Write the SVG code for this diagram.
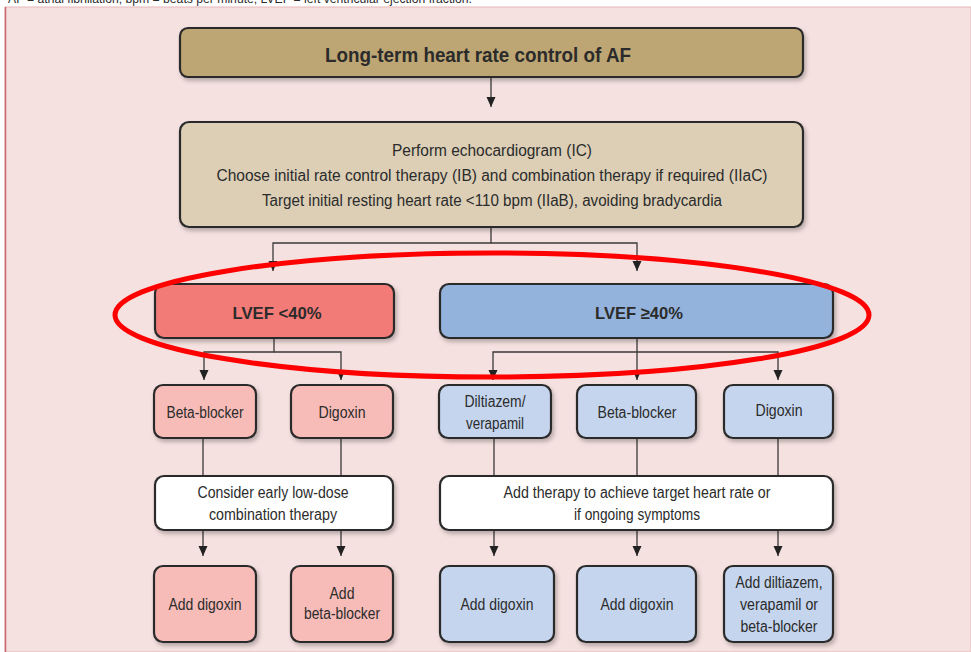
<svg xmlns="http://www.w3.org/2000/svg" width="971" height="652" viewBox="0 0 971 652">
<style>
.t{font-family:"Liberation Sans",Arial,sans-serif;fill:#2b2b2b;text-anchor:middle;font-size:16px}
.b{font-weight:bold}
.box{stroke:#2a2a2a;stroke-width:2.2}
.ln{stroke:#3a3a3a;stroke-width:1.3;fill:none}
</style>
<defs>
<marker id="ah" viewBox="0 0 10 10" refX="10" refY="5" markerWidth="10" markerHeight="10" markerUnits="userSpaceOnUse" orient="auto">
<path d="M0,0.5 L10,5 L0,9.5 Z" fill="#222"/>
</marker>
<filter id="sh" x="-5%" y="-10%" width="112%" height="130%">
<feDropShadow dx="2" dy="3" stdDeviation="2" flood-color="#000" flood-opacity="0.25"/>
</filter>
</defs>
<rect x="0" y="0" width="971" height="652" fill="#ffffff"/>
<rect x="5" y="7" width="966" height="645" fill="#f5e1e0" stroke="#e7b7b9" stroke-width="1"/>
<line x1="5.5" y1="7" x2="5.5" y2="652" stroke="#c9686f" stroke-width="1.5"/>
<text x="8" y="3" class="t" style="text-anchor:start;font-size:12px" textLength="464" lengthAdjust="spacingAndGlyphs">AF = atrial fibrillation; bpm = beats per minute; LVEF = left ventricular ejection fraction.</text>

<g id="connectors">
<line class="ln" x1="491" y1="77" x2="491" y2="107" marker-end="url(#ah)"/>
<path class="ln" d="M491,227 V243 H273 V271" marker-end="url(#ah)"/>
<path class="ln" d="M491,243 H637 V271" marker-end="url(#ah)"/>
<path class="ln" d="M274,338 V352 H204 V380" marker-end="url(#ah)"/>
<path class="ln" d="M274,352 H341 V380" marker-end="url(#ah)"/>
<path class="ln" d="M637,338 V380" marker-end="url(#ah)"/>
<path class="ln" d="M637,352 H493 V380" marker-end="url(#ah)"/>
<path class="ln" d="M637,352 H778 V380" marker-end="url(#ah)"/>
<line class="ln" x1="203" y1="438" x2="203" y2="476"/>
<line class="ln" x1="341" y1="438" x2="341" y2="476"/>
<line class="ln" x1="494" y1="438" x2="494" y2="476"/>
<line class="ln" x1="637" y1="438" x2="637" y2="476"/>
<line class="ln" x1="778" y1="438" x2="778" y2="476"/>
<line class="ln" x1="203" y1="530" x2="203" y2="556" marker-end="url(#ah)"/>
<line class="ln" x1="341" y1="530" x2="341" y2="556" marker-end="url(#ah)"/>
<line class="ln" x1="494" y1="530" x2="494" y2="556" marker-end="url(#ah)"/>
<line class="ln" x1="637" y1="530" x2="637" y2="556" marker-end="url(#ah)"/>
<line class="ln" x1="778" y1="530" x2="778" y2="556" marker-end="url(#ah)"/>
</g>

<g id="title">
<rect class="box" x="180" y="28" width="623" height="49" rx="8" fill="#bda673" filter="url(#sh)"/>
<text class="t b" x="478" y="62" style="font-size:20px" textLength="306" lengthAdjust="spacingAndGlyphs">Long-term heart rate control of AF</text>
</g>

<g id="echo">
<rect class="box" x="180" y="122" width="623" height="105" rx="9" fill="#dccfb6" filter="url(#sh)"/>
<text class="t" x="492" y="156" textLength="200" lengthAdjust="spacingAndGlyphs">Perform echocardiogram (IC)</text>
<text class="t" x="492" y="181" textLength="551" lengthAdjust="spacingAndGlyphs">Choose initial rate control therapy (IB) and combination therapy if required (IIaC)</text>
<text class="t" x="492" y="206" textLength="460" lengthAdjust="spacingAndGlyphs">Target initial resting heart rate &lt;110 bpm (IIaB), avoiding bradycardia</text>
</g>

<g id="lvef-low">
<rect class="box" x="155" y="284" width="239" height="54" rx="9" fill="#f27a77" filter="url(#sh)"/>
<text class="t b" x="277" y="319" style="font-size:17px" textLength="89" lengthAdjust="spacingAndGlyphs">LVEF &lt;40%</text>
</g>

<g id="lvef-high">
<rect class="box" x="440" y="284" width="393" height="54" rx="9" fill="#93b3dd" filter="url(#sh)"/>
<text class="t b" x="639" y="319" style="font-size:17px" textLength="88" lengthAdjust="spacingAndGlyphs">LVEF ≥40%</text>
</g>

<g id="bb-low">
<rect class="box" x="154" y="385" width="102" height="53" rx="9" fill="#f7bcb8" filter="url(#sh)"/>
<text class="t" x="205" y="418" textLength="77" lengthAdjust="spacingAndGlyphs">Beta-blocker</text>
</g>
<g id="dig-low">
<rect class="box" x="291" y="385" width="102" height="53" rx="9" fill="#f7bcb8" filter="url(#sh)"/>
<text class="t" x="342" y="418" textLength="47" lengthAdjust="spacingAndGlyphs">Digoxin</text>
</g>
<g id="dilt-high">
<rect class="box" x="439" y="385" width="112" height="53" rx="9" fill="#c5d5ee" filter="url(#sh)"/>
<text class="t" x="495" y="407" textLength="61" lengthAdjust="spacingAndGlyphs">Diltiazem/</text>
<text class="t" x="495" y="429" textLength="58" lengthAdjust="spacingAndGlyphs">verapamil</text>
</g>
<g id="bb-high">
<rect class="box" x="577" y="385" width="119" height="53" rx="9" fill="#c5d5ee" filter="url(#sh)"/>
<text class="t" x="637" y="418" textLength="79" lengthAdjust="spacingAndGlyphs">Beta-blocker</text>
</g>
<g id="dig-high">
<rect class="box" x="724" y="385" width="109" height="53" rx="9" fill="#c5d5ee" filter="url(#sh)"/>
<text class="t" x="779" y="416" textLength="47" lengthAdjust="spacingAndGlyphs">Digoxin</text>
</g>

<g id="combo-low">
<rect class="box" x="155" y="476" width="238" height="54" rx="9" fill="#ffffff" filter="url(#sh)"/>
<text class="t" x="273" y="498" textLength="151" lengthAdjust="spacingAndGlyphs">Consider early low-dose</text>
<text class="t" x="273" y="520" textLength="128" lengthAdjust="spacingAndGlyphs">combination therapy</text>
</g>
<g id="combo-high">
<rect class="box" x="440" y="476" width="393" height="54" rx="9" fill="#ffffff" filter="url(#sh)"/>
<text class="t" x="637" y="498" textLength="267" lengthAdjust="spacingAndGlyphs">Add therapy to achieve target heart rate or</text>
<text class="t" x="637" y="520" textLength="126" lengthAdjust="spacingAndGlyphs">if ongoing symptoms</text>
</g>

<g id="add-dig-low">
<rect class="box" x="154" y="566" width="102" height="76" rx="9" fill="#f7bcb8" filter="url(#sh)"/>
<text class="t" x="205" y="610" textLength="73" lengthAdjust="spacingAndGlyphs">Add digoxin</text>
</g>
<g id="add-bb-low">
<rect class="box" x="291" y="566" width="102" height="76" rx="9" fill="#f7bcb8" filter="url(#sh)"/>
<text class="t" x="342" y="599" textLength="25" lengthAdjust="spacingAndGlyphs">Add</text>
<text class="t" x="342" y="619" textLength="76" lengthAdjust="spacingAndGlyphs">beta-blocker</text>
</g>
<g id="add-dig-high1">
<rect class="box" x="440" y="566" width="114" height="76" rx="9" fill="#c5d5ee" filter="url(#sh)"/>
<text class="t" x="497" y="610" textLength="73" lengthAdjust="spacingAndGlyphs">Add digoxin</text>
</g>
<g id="add-dig-high2">
<rect class="box" x="577" y="566" width="119" height="76" rx="9" fill="#c5d5ee" filter="url(#sh)"/>
<text class="t" x="637" y="610" textLength="73" lengthAdjust="spacingAndGlyphs">Add digoxin</text>
</g>
<g id="add-dilt-high">
<rect class="box" x="724" y="566" width="109" height="76" rx="9" fill="#c5d5ee" filter="url(#sh)"/>
<text class="t" x="779" y="588" textLength="87" lengthAdjust="spacingAndGlyphs">Add diltiazem,</text>
<text class="t" x="779" y="610" textLength="78" lengthAdjust="spacingAndGlyphs">verapamil or</text>
<text class="t" x="779" y="632" textLength="77" lengthAdjust="spacingAndGlyphs">beta-blocker</text>
</g>

<ellipse id="highlight" cx="492" cy="315" rx="377" ry="62" fill="none" stroke="#ff0000" stroke-width="5"/>
</svg>
